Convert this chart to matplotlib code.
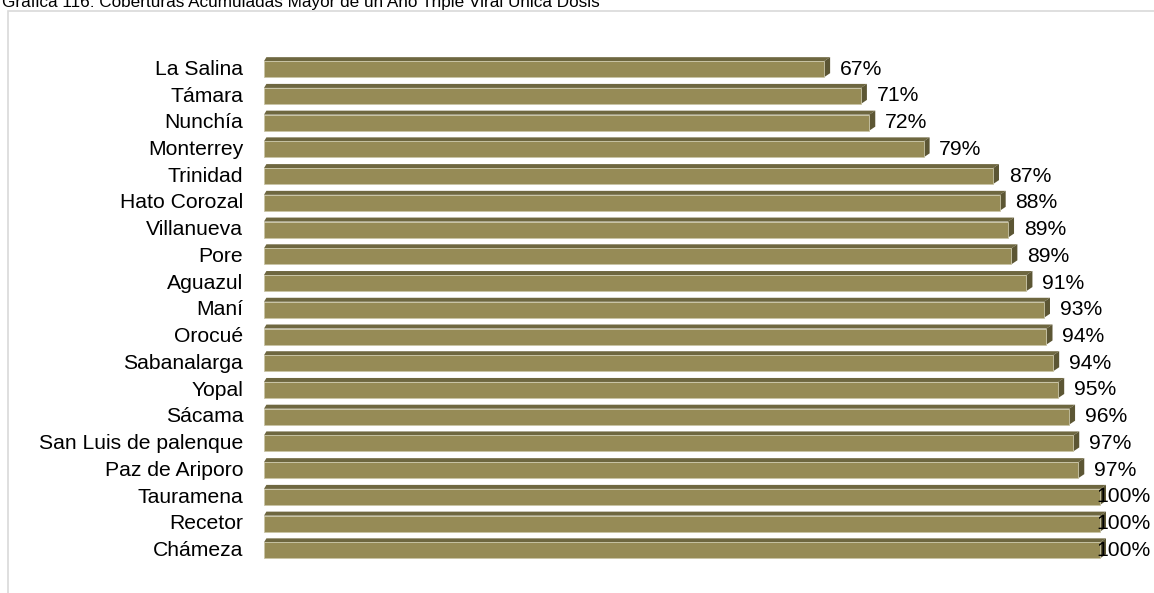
import numpy as np
import matplotlib.pyplot as plt
from matplotlib.patches import Polygon, Rectangle
from matplotlib.transforms import blended_transform_factory

plt.rcParams['font.family'] = ['Liberation Sans', 'DejaVu Sans']

municipios = ['La Salina', 'Támara', 'Nunchía', 'Monterrey', 'Trinidad', 'Hato Corozal',
              'Villanueva', 'Pore', 'Aguazul', 'Maní', 'Orocué', 'Sabanalarga', 'Yopal',
              'Sácama', 'San Luis de palenque', 'Paz de Ariporo', 'Tauramena', 'Recetor',
              'Chámeza']
coberturas = [67.0, 71.4, 72.4, 78.9, 87.2, 88.0, 89.0, 89.4, 91.2, 93.3, 93.6, 94.4,
              95.0, 96.3, 96.8, 97.4, 100.0, 100.0, 100.0]
etiquetas = ['67%', '71%', '72%', '79%', '87%', '88%', '89%', '89%', '91%', '93%', '94%',
             '94%', '95%', '96%', '97%', '97%', '100%', '100%', '100%']

W, H = 1154, 593
fig = plt.figure(figsize=(W / 100, H / 100), dpi=100)

# axes placed in pixels: x=0 at 264px, 100% at 1100px; rows 26.7px apart
px_per_pct = 8.36
row = 26.72
top_px = 67.3 - 0.5 * row
bot_px = 548.5 + 0.5 * row
left_px = 264
xmax = 105
ax = fig.add_axes([left_px / W, (H - bot_px) / H, xmax * px_per_pct / W, (bot_px - top_px) / H])
ax.set_xlim(0, xmax)
ax.set_ylim(len(municipios) - 0.5, -0.5)

front = '#968b56'
topc = '#6e6740'
side = '#5c5634'
h = 16 / row
dx = 6 / px_per_pct
dy = 4 / row
fs = 15.2

right_edge = blended_transform_factory(fig.transFigure, ax.transData)

for i, v in enumerate(coberturas):
    y0 = i - h / 2 + 0.07
    y1 = i + h / 2 + 0.07
    # top face
    ax.add_patch(Polygon([[0, y0], [dx * 0.4, y0 - dy], [v + dx, y0 - dy], [v, y0]],
                         closed=True, fc=topc, ec='none'))
    # side face
    ax.add_patch(Polygon([[v, y0], [v + dx, y0 - dy], [v + dx, y1 - dy], [v, y1]],
                         closed=True, fc=side, ec='none'))
    # front face
    ax.add_patch(Rectangle((0, y0), v, y1 - y0, fc=front, ec='#c9c5a6', lw=0.6))

    # labels, kept inside the chart on the right
    if v >= 99.5:
        ax.text(1151 / W, i + 0.07, etiquetas[i], transform=right_edge, ha='right',
                va='center', fontsize=fs, color='black')
    else:
        ax.annotate(etiquetas[i], (v + dx, i + 0.07), xytext=(7, 0), textcoords='offset points',
                    ha='left', va='center', fontsize=fs, color='black')

ax.set_yticks(range(len(municipios)))
ax.set_yticklabels(municipios, fontsize=fs)
ax.tick_params(axis='y', length=0, pad=15)
ax.set_xticks([])
for s in ax.spines.values():
    s.set_visible(False)
ax.patch.set_alpha(0)

# outer chart frame (partly cut by the image border)
fig.add_artist(Rectangle((7.5 / W, -0.05), 1.1, (H - 10.5) / H + 0.05, transform=fig.transFigure,
                         fill=False, ec='#d9d9d9', lw=1.2))

fig.text(2 / W, 1 - 7.5 / H, 'Gráfica 116: Coberturas Acumuladas Mayor de un Año Triple Viral Única Dosis',
         fontsize=12.3, ha='left', va='baseline', color='black')

fig.savefig('out.png', dpi=100)
